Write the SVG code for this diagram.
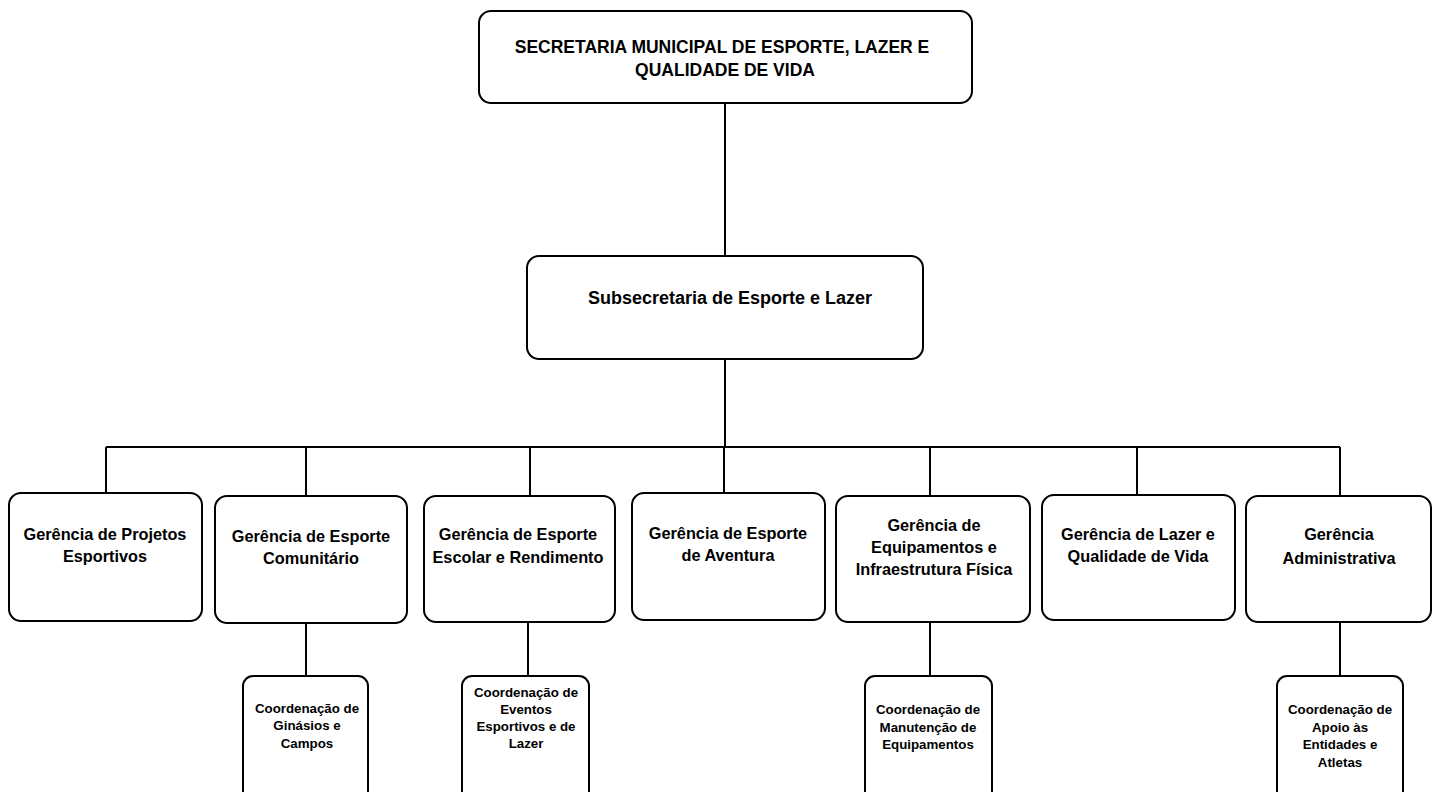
<svg xmlns="http://www.w3.org/2000/svg" width="1432" height="792" viewBox="0 0 1432 792">
<style>
.box{fill:#fff;stroke:#000;stroke-width:2}
.ln{stroke:#000;stroke-width:2;fill:none}
text{font-family:"Liberation Sans",Arial,sans-serif;font-weight:bold;fill:#000;text-anchor:middle}
.t1{font-size:17.5px}
.t0{font-size:18px}
.t2{font-size:16.3px}
.t3{font-size:13.3px}
</style>
<rect width="1432" height="792" fill="#fff"/>
<g id="connectors">
<path class="ln" d="M725,103V256M725,359V447M106,447H1340M106,447V493M306,447V496M530,447V496M724,447V493M930,447V496M1137,447V495M1340,447V496M306,623V676M528,622V676M930,622V676M1340,622V676"/>
</g>
<g id="n-secretaria">
<rect class="box" x="479" y="11" width="493" height="92" rx="12"/>
<text class="t1" x="722" y="53">SECRETARIA MUNICIPAL DE ESPORTE, LAZER E</text>
<text class="t1" x="725" y="76">QUALIDADE DE VIDA</text>
</g>
<g id="n-subsecretaria">
<rect class="box" x="527" y="256" width="396" height="103" rx="12"/>
<text class="t0" x="730" y="303.5">Subsecretaria de Esporte e Lazer</text>
</g>
<g id="n-projetos">
<rect class="box" x="9" y="493" width="193" height="128" rx="12"/>
<text class="t2" x="105" y="539.5">Gerência de Projetos</text>
<text class="t2" x="105" y="561.5">Esportivos</text>
</g>
<g id="n-comunitario">
<rect class="box" x="215" y="496" width="192" height="127" rx="12"/>
<text class="t2" x="311" y="541.5">Gerência de Esporte</text>
<text class="t2" x="311" y="563.5">Comunitário</text>
</g>
<g id="n-escolar">
<rect class="box" x="424" y="496" width="191" height="126" rx="12"/>
<text class="t2" x="518" y="539.5">Gerência de Esporte</text>
<text class="t2" x="518" y="562.5">Escolar e Rendimento</text>
</g>
<g id="n-aventura">
<rect class="box" x="632" y="493" width="193" height="127" rx="12"/>
<text class="t2" x="728" y="538.5">Gerência de Esporte</text>
<text class="t2" x="728" y="560.5">de Aventura</text>
</g>
<g id="n-equipamentos">
<rect class="box" x="836" y="496" width="194" height="126" rx="12"/>
<text class="t2" x="934" y="530.5">Gerência de</text>
<text class="t2" x="934" y="552.5">Equipamentos e</text>
<text class="t2" x="934" y="574.5">Infraestrutura Física</text>
</g>
<g id="n-lazer">
<rect class="box" x="1042" y="495" width="193" height="125" rx="12"/>
<text class="t2" x="1138" y="539.5">Gerência de Lazer e</text>
<text class="t2" x="1138" y="561.5">Qualidade de Vida</text>
</g>
<g id="n-administrativa">
<rect class="box" x="1246" y="496" width="185" height="126" rx="12"/>
<text class="t2" x="1339" y="539.5">Gerência</text>
<text class="t2" x="1339" y="563.5">Administrativa</text>
</g>
<g id="n-ginasios">
<rect class="box" x="243" y="676" width="125" height="130" rx="10"/>
<text class="t3" x="307" y="712.7">Coordenação de</text>
<text class="t3" x="307" y="729.7">Ginásios e</text>
<text class="t3" x="307" y="747.7">Campos</text>
</g>
<g id="n-eventos">
<rect class="box" x="462" y="676" width="127" height="130" rx="10"/>
<text class="t3" x="526" y="696.7">Coordenação de</text>
<text class="t3" x="526" y="713.7">Eventos</text>
<text class="t3" x="526" y="730.7">Esportivos e de</text>
<text class="t3" x="526" y="747.7">Lazer</text>
</g>
<g id="n-manutencao">
<rect class="box" x="865" y="676" width="127" height="130" rx="10"/>
<text class="t3" x="928" y="713.7">Coordenação de</text>
<text class="t3" x="928" y="731.7">Manutenção de</text>
<text class="t3" x="928" y="748.7">Equipamentos</text>
</g>
<g id="n-apoio">
<rect class="box" x="1277" y="676" width="126" height="130" rx="10"/>
<text class="t3" x="1340" y="713.7">Coordenação de</text>
<text class="t3" x="1340" y="731.7">Apoio às</text>
<text class="t3" x="1340" y="748.7">Entidades e</text>
<text class="t3" x="1340" y="766.7">Atletas</text>
</g>
</svg>
